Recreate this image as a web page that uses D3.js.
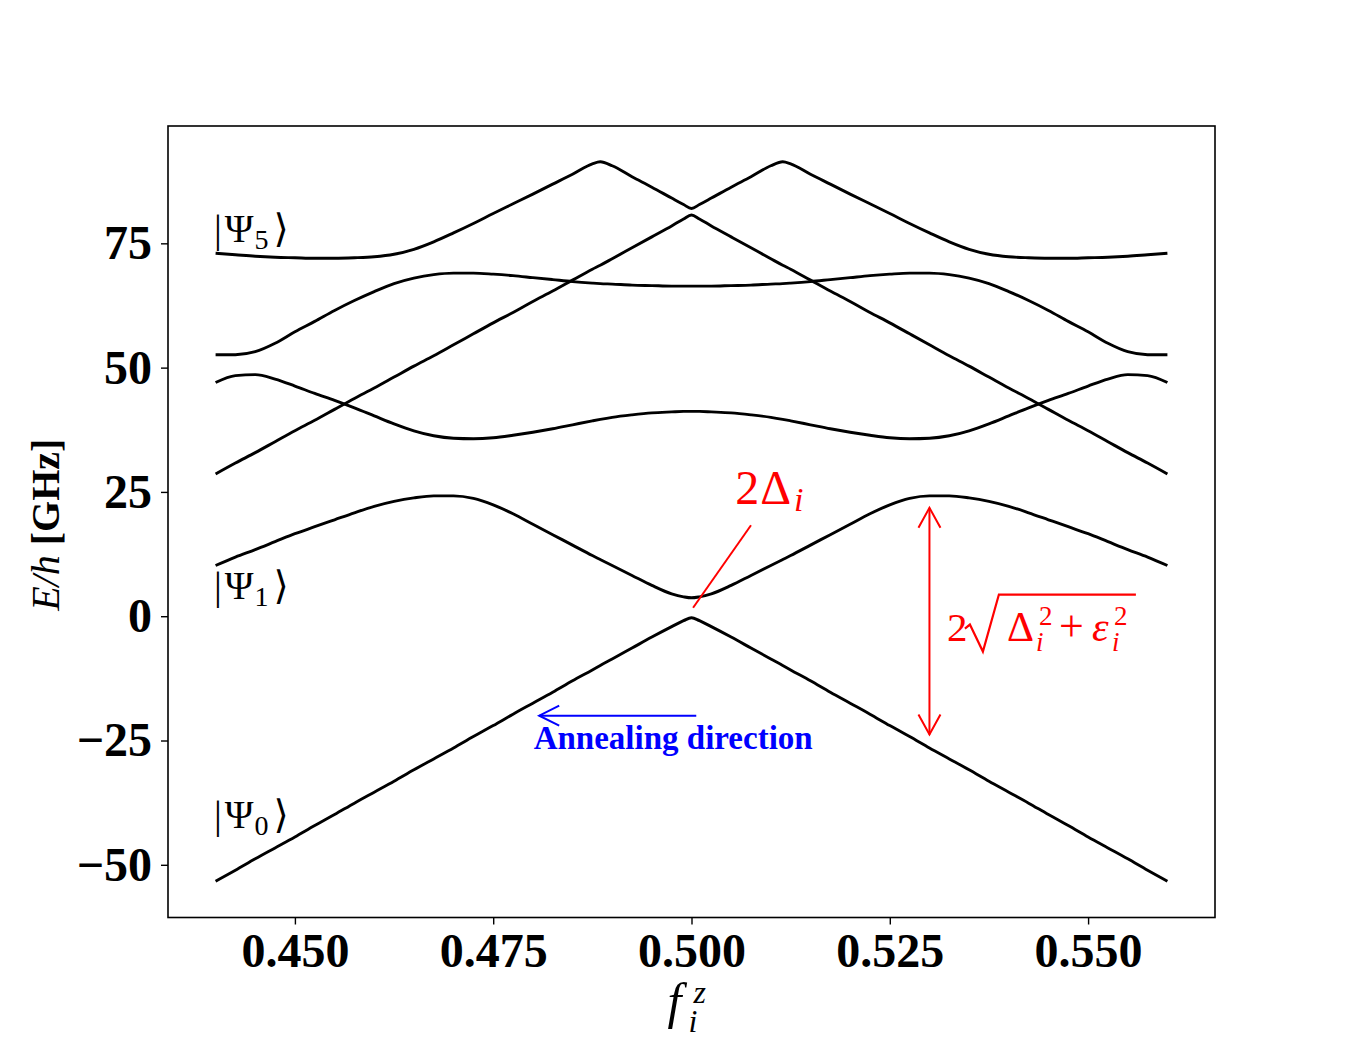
<!DOCTYPE html>
<html>
<head>
<meta charset="utf-8">
<script src="https://cdn.jsdelivr.net/npm/d3@7"></script>
<style>
  body { margin: 0; background: #fff; }
  svg { font-family: "Liberation Serif", "Times New Roman", "DejaVu Serif", serif; }
</style>
</head>
<body>
<div id="chart"></div>
<script>
// flux bias grid (f_i^z)
const fz = [0.44, 0.4425, 0.445, 0.4475, 0.45, 0.4525, 0.455, 0.4575, 0.46, 0.4625, 0.465, 0.4675, 0.47, 0.4725,
  0.475, 0.4775, 0.48, 0.4825, 0.485, 0.4875, 0.4885, 0.49, 0.4925, 0.495, 0.4975, 0.499, 0.5,
  0.501, 0.5025, 0.505, 0.5075, 0.51, 0.5115, 0.5125, 0.515, 0.5175, 0.52, 0.5225, 0.525, 0.5275, 0.53,
  0.5325, 0.535, 0.5375, 0.54, 0.5425, 0.545, 0.5475, 0.55, 0.5525, 0.555, 0.5575, 0.56];

// energies E/h [GHz], one array per drawn line
const ground = [-53.3, -51.1, -48.8, -46.6, -44.4, -42.1, -39.9, -37.6, -35.4, -33.2, -30.9, -28.7, -26.5, -24.2,
  -22.0, -19.7, -17.5, -15.3, -13.0, -10.8, -9.9, -8.6, -6.4, -4.2, -2.1, -0.9, -0.3,
  -0.9, -2.1, -4.2, -6.4, -8.6, -9.9, -10.8, -13.0, -15.3, -17.5, -19.7, -22.0, -24.2, -26.5,
  -28.7, -30.9, -33.2, -35.4, -37.6, -39.9, -42.1, -44.4, -46.6, -48.8, -51.1, -53.3];
const first = [10.2, 11.9, 13.4, 15.0, 16.6, 18.0, 19.4, 20.8, 22.1, 23.1, 23.8, 24.2, 24.2, 23.7,
  22.4, 20.6, 18.5, 16.4, 14.3, 12.2, 11.4, 10.2, 8.2, 6.2, 4.5, 3.9, 3.7,
  3.9, 4.5, 6.2, 8.2, 10.2, 11.4, 12.2, 14.3, 16.4, 18.5, 20.6, 22.4, 23.7, 24.2,
  24.2, 23.8, 23.1, 22.1, 20.8, 19.4, 18.0, 16.6, 15.0, 13.4, 11.9, 10.2];
const lowerMid = [47.0, 48.4, 48.6, 47.7, 46.3, 44.8, 43.4, 41.9, 40.3, 38.7, 37.3, 36.3, 35.8, 35.7,
  35.9, 36.4, 37.0, 37.7, 38.5, 39.3, 39.6, 40.0, 40.5, 40.9, 41.1, 41.2, 41.2,
  41.2, 41.1, 40.9, 40.5, 40.0, 39.6, 39.3, 38.5, 37.7, 37.0, 36.4, 35.9, 35.7, 35.8,
  36.3, 37.3, 38.7, 40.3, 41.9, 43.4, 44.8, 46.3, 47.7, 48.6, 48.4, 47.0];
const crossLine = [28.6, 30.8, 32.9, 35.1, 37.3, 39.4, 41.6, 43.8, 45.9, 48.1, 50.3, 52.4, 54.6, 56.8,
  59.0, 61.1, 63.3, 65.4, 67.6, 69.8, 70.6, 71.9, 74.1, 76.3, 78.5, 79.9, 80.7,
  79.9, 78.5, 76.3, 74.1, 71.9, 70.6, 69.8, 67.6, 65.4, 63.3, 61.1, 59.0, 56.8, 54.6,
  52.4, 50.3, 48.1, 45.9, 43.8, 41.6, 39.4, 37.3, 35.1, 32.9, 30.8, 28.6];
const upperMid = [52.6, 52.6, 53.2, 54.9, 57.2, 59.3, 61.5, 63.5, 65.3, 66.9, 68.0, 68.7, 69.0, 69.0,
  68.8, 68.5, 68.1, 67.7, 67.3, 67.0, 66.9, 66.8, 66.6, 66.5, 66.4, 66.4, 66.4,
  66.4, 66.4, 66.5, 66.6, 66.8, 66.9, 67.0, 67.3, 67.7, 68.1, 68.5, 68.8, 69.0, 69.0,
  68.7, 68.0, 66.9, 65.3, 63.5, 61.5, 59.3, 57.2, 54.9, 53.2, 52.6, 52.6];
const top5 = [73.0, 72.7, 72.4, 72.2, 72.1, 72.0, 72.0, 72.1, 72.3, 72.8, 73.8, 75.3, 77.1, 79.0,
  81.0, 82.95, 84.9, 86.9, 88.9, 91.0, 91.4, 90.6, 88.4, 86.3, 84.1, 82.8, 82.0,
  82.8, 84.1, 86.3, 88.4, 90.6, 91.4, 91.0, 88.9, 86.9, 84.9, 82.95, 81.0, 79.0, 77.1,
  75.3, 73.8, 72.8, 72.3, 72.1, 72.0, 72.0, 72.1, 72.2, 72.4, 72.7, 73.0];

const xTicks = [0.45, 0.475, 0.5, 0.525, 0.55];
const yTicks = [-50, -25, 0, 25, 50, 75];

// state labels |Psi_n>
const stateIdx = ["5", "1", "0"];
const stateF = [0.4398, 0.4398, 0.4398];
const stateE = [75.2, 3.5, -42.5];

const margin = {top: 126, right: 135, bottom: 132.5, left: 168},
      width = 1350 - margin.left - margin.right,
      height = 1050 - margin.top - margin.bottom;

const svg = d3.select("#chart")
  .append("svg")
  .attr("width", 1350)
  .attr("height", 1050)
  .append("g")
  .attr("transform", `translate(${margin.left},${margin.top})`);

const x = d3.scaleLinear().domain([0.434, 0.566]).range([0, width]);
const y = d3.scaleLinear().domain([-60.6, 98.6]).range([height, 0]);

// energy levels
const line = d3.line()
  .x((d, i) => x(fz[i]))
  .y(d => y(d))
  .curve(d3.curveMonotoneX);

[ground, first, lowerMid, crossLine, upperMid, top5].forEach(s => {
  svg.append("path")
    .datum(s)
    .attr("d", line)
    .attr("fill", "none")
    .attr("stroke", "#000")
    .attr("stroke-width", 2.9)
    .attr("stroke-linejoin", "round");
});

// axes
const xAxis = svg.append("g")
  .attr("transform", `translate(0,${height})`)
  .call(d3.axisBottom(x).tickValues(xTicks).tickFormat(d3.format(".3f")).tickSize(7).tickPadding(8));
const yAxis = svg.append("g")
  .call(d3.axisLeft(y).tickValues(yTicks).tickFormat(d3.format("d")).tickSize(7).tickPadding(9));

[xAxis, yAxis].forEach(a => {
  a.select(".domain").remove();
  a.selectAll(".tick line").attr("stroke", "#000").attr("stroke-width", 1.4);
  a.selectAll(".tick text")
    .attr("fill", "#000")
    .style("font-family", "'Liberation Serif', 'Times New Roman', serif")
    .style("font-weight", "bold")
    .style("font-size", "48px");
});

// frame
svg.append("rect")
  .attr("width", width)
  .attr("height", height)
  .attr("fill", "none")
  .attr("stroke", "#000")
  .attr("stroke-width", 1.6);

// y label
svg.append("text")
  .attr("transform", `translate(${59 - margin.left},${height / 2 + 3}) rotate(-90)`)
  .attr("text-anchor", "middle")
  .style("font-size", "40px")
  .call(t => {
    t.append("tspan").style("font-style", "italic").text("E/h");
    t.append("tspan").style("font-weight", "bold").text(" [GHz]");
  });

// x label f_i^z
const xl = svg.append("g").attr("transform", `translate(${width / 2 - 24},${height + 100})`);
xl.append("text").style("font-style", "italic").style("font-size", "50px").text("f");
xl.append("text").attr("x", 26).attr("y", -15).style("font-style", "italic").style("font-size", "32px").text("z");
xl.append("text").attr("x", 21).attr("y", 14).style("font-style", "italic").style("font-size", "32px").text("i");

// state labels
stateIdx.forEach((n, k) => {
  const t = svg.append("text")
    .attr("x", x(stateF[k]))
    .attr("y", y(stateE[k]))
    .style("font-size", "39px");
  t.append("tspan").text("|");
  t.append("tspan").attr("dx", 3).text("Ψ");
  t.append("tspan").attr("dx", 1).attr("dy", 7).style("font-size", "28px").text(n);
  t.append("tspan").attr("dx", 5).attr("dy", -7).text("⟩");
});

// annealing direction arrow
const red = "#ff0000", blue = "#0000ff";
const arrowY = y(-20), arrowX0 = x(0.5006), arrowX1 = x(0.4808);
svg.append("line")
  .attr("x1", arrowX0).attr("x2", arrowX1)
  .attr("y1", arrowY).attr("y2", arrowY)
  .attr("stroke", blue).attr("stroke-width", 2);
svg.append("path")
  .attr("d", `M${arrowX1 + 20},${arrowY - 10}L${arrowX1},${arrowY}L${arrowX1 + 20},${arrowY + 10}`)
  .attr("fill", "none").attr("stroke", blue).attr("stroke-width", 2);
svg.append("text")
  .attr("x", x(0.4801))
  .attr("y", y(-26.8))
  .attr("fill", blue)
  .style("font-weight", "bold")
  .style("font-size", "33px")
  .text("Annealing direction");

// 2Delta annotation
svg.append("line")
  .attr("x1", x(0.5002)).attr("y1", y(1.7))
  .attr("x2", x(0.5075)).attr("y2", y(18.3))
  .attr("stroke", red).attr("stroke-width", 2);
const dl = svg.append("text")
  .attr("x", x(0.5055))
  .attr("y", y(22.5))
  .attr("fill", red)
  .style("font-size", "48px");
dl.append("tspan").text("2");
dl.append("tspan").attr("dx", 1).text("Δ");
dl.append("tspan").attr("dx", 3).attr("dy", 7).style("font-style", "italic").style("font-size", "34px").text("i");

// double arrow for the gap
const ax = x(0.53), aTop = y(21.8), aBot = y(-23.8);
svg.append("line")
  .attr("x1", ax).attr("x2", ax).attr("y1", aTop).attr("y2", aBot)
  .attr("stroke", red).attr("stroke-width", 2);
svg.append("path")
  .attr("d", `M${ax - 11},${aTop + 20}L${ax},${aTop}L${ax + 11},${aTop + 20}` +
             `M${ax - 11},${aBot - 20}L${ax},${aBot}L${ax + 11},${aBot - 20}`)
  .attr("fill", "none").attr("stroke", red).attr("stroke-width", 2);

// 2 sqrt(Delta_i^2 + eps_i^2)
const fm = svg.append("g")
  .attr("transform", `translate(${x(0.5322)},${y(-4.9)})`)
  .attr("fill", red);
fm.append("text").attr("x", 0).style("font-size", "41px").text("2");
fm.append("path")
  .attr("d", "M18,-12L23,-16L36,11L52,-46L189,-46")
  .attr("fill", "none").attr("stroke", red).attr("stroke-width", 2.2);
fm.append("text").attr("x", 60).style("font-size", "42px").text("Δ");
fm.append("text").attr("x", 92).attr("y", -16).style("font-size", "27px").text("2");
fm.append("text").attr("x", 89).attr("y", 10).style("font-size", "27px").style("font-style", "italic").text("i");
fm.append("text").attr("x", 112).style("font-size", "44px").text("+");
fm.append("text").attr("x", 145).style("font-size", "42px").style("font-style", "italic").text("ε");
fm.append("text").attr("x", 167).attr("y", -16).style("font-size", "27px").text("2");
fm.append("text").attr("x", 165).attr("y", 10).style("font-size", "27px").style("font-style", "italic").text("i");
</script>
</body>
</html>
